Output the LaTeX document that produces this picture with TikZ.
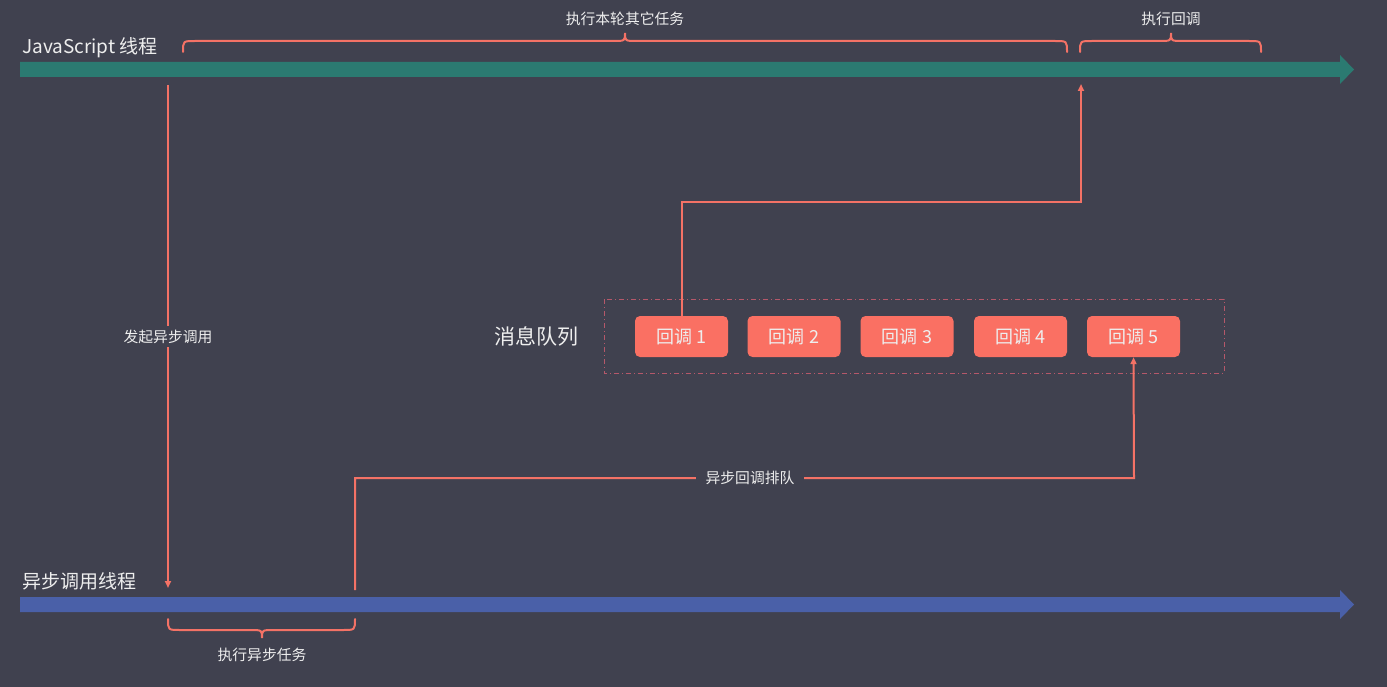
\documentclass[tikz,border=0pt]{standalone}
\usepackage{fontspec}
\setmainfont{Noto Sans CJK SC}
\usetikzlibrary{arrows.meta}
\definecolor{bg}{HTML}{40414F}
\definecolor{teal}{HTML}{2B7A71}
\definecolor{bluebar}{HTML}{4A60A8}
\definecolor{red}{HTML}{F47266}
\definecolor{boxred}{HTML}{FA7063}
\definecolor{dashc}{HTML}{B5586A}
\definecolor{txt}{HTML}{EEEEEE}
\tikzset{
  conn/.style={draw=red, line width=2pt, -{Triangle[length=7pt,width=6pt]}},
  brace/.style={draw=red, line width=2pt, line cap=round},
  small/.style={text=txt, font=\fontsize{14.8}{17}\selectfont, inner sep=0pt},
  gaplabel/.style={small, fill=bg, inner xsep=10pt, inner ysep=4pt},
  title/.style={text=txt, font=\fontsize{19}{22}\selectfont, inner sep=0pt, anchor=west},
  cb/.style={fill=boxred, rounded corners=5pt, minimum width=93pt, minimum height=41pt, text=txt, font=\fontsize{18}{20}\selectfont, inner sep=0pt},
}
\begin{document}
\begin{tikzpicture}[x=1pt,y=-1pt]
\fill[bg] (0,0) rectangle (1387,687);
\useasboundingbox (0,0) rectangle (1387,687);

% bars
\fill[teal] (20,62) -- (1340,62) -- (1340,55) -- (1354,69.5) -- (1340,84) -- (1340,77) -- (20,77) -- cycle;
\fill[bluebar] (20,597) -- (1340,597) -- (1340,590) -- (1354,604.5) -- (1340,619) -- (1340,612) -- (20,612) -- cycle;

\node[title] (jst) at (22,48) {JavaScript 线程};
\node[title] (ast) at (22,581) {异步调用线程};

% braces top
\draw[brace] (183,52) .. controls (183,41) .. (195,41) -- (613,41) .. controls (625,41) .. (625,33) .. controls (625,41) .. (637,41) -- (1055,41) .. controls (1067,41) .. (1067,52);
\node[small] (l1) at (625,19) {执行本轮其它任务};
\draw[brace] (1080,52) .. controls (1080,41) .. (1092,41) -- (1159,41) .. controls (1171,41) .. (1171,33) .. controls (1171,41) .. (1183,41) -- (1249,41) .. controls (1261,41) .. (1261,52);
\node[small] (l2) at (1171,19) {执行回调};

% bottom brace
\draw[brace] (168,619) .. controls (168,630) .. (180,630) -- (250,630) .. controls (262,630) .. (262,638) .. controls (262,630) .. (274,630) -- (343,630) .. controls (355,630) .. (355,619);
\node[small] (l3) at (262,655) {执行异步任务};

% message queue
\draw[dashc, line width=1pt, dash pattern=on 5pt off 3pt on 1pt off 3pt] (604,299) rectangle (1224,373);
\node[text=txt, font=\fontsize{21}{24}\selectfont, inner sep=0pt] (mq) at (536,336) {消息队列};
\node[cb] (c1) at (681.5,336.5) {回调 1};
\node[cb] (c2) at (794,336.5) {回调 2};
\node[cb] (c3) at (907,336.5) {回调 3};
\node[cb] (c4) at (1020.5,336.5) {回调 4};
\node[cb] (c5) at (1133.5,336.5) {回调 5};

% coordinates
\coordinate (a0) at (168,85);
\coordinate (a1) at (168,588);
\coordinate (b0) at (355,590);
\coordinate (b1) at (355,478);
\coordinate (b2) at (1134,478);
\coordinate (d1) at (682,202);
\coordinate (d2) at (1081,202);
\coordinate (d3) at (1081,84);

% connectors
\draw[conn] (a0) -- (a1) node[gaplabel, pos=0.5] (l4) {发起异步调用};
\draw[conn] (b0) -- (b1) -- (b2) -- (c5.south);
\node[gaplabel] (l5) at (750,478) {异步回调排队};
\draw[conn] (c1.north -| d1) -- (d1) -- (d2) -- (d3);
\end{tikzpicture}
\end{document}
